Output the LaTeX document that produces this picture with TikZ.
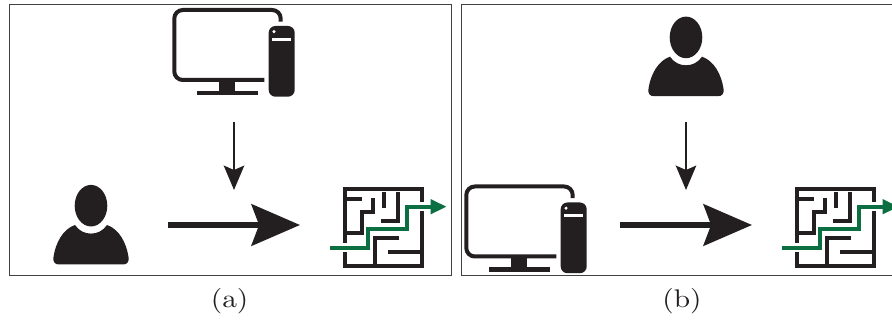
\documentclass[tikz,border=0pt]{standalone}
\usetikzlibrary{arrows.meta}
\definecolor{ink}{HTML}{231F20}
\definecolor{mazegreen}{HTML}{0B6F41}
\font\capfont=cmr10 at 25.5pt
\tikzset{
  panel/.style={draw=ink!85,line width=0.9pt},
  caption/.style={text=ink,font=\capfont,inner sep=0pt,xscale=1.15,transform shape},
  bigarrow/.style={ink,line width=5.6pt,-{Stealth[length=48.5pt,width=41.5pt,inset=7.6pt]}},
  smallarrow/.style={ink,line width=2.8pt,-{Stealth[length=24.3pt,width=20.3pt,inset=4.3pt]}},
  wall/.style={ink,line width=3.8pt,miter limit=10},
  pics/computer/.style={code={
    \draw[ink,line width=4pt,rounded corners=8.5pt] (280.7,21.7) -- (280.7,10) -- (174.3,10) -- (174.3,80) -- (264.3,80);
    \fill[ink] (219,81) rectangle (235,91);
    \fill[ink] (196.7,90.7) rectangle (257.7,95.2);
    \fill[ink,rounded corners=6.7pt] (268.7,26) rectangle (294.7,96.7);
    \fill[white] (274,31.7) circle[radius=1.7];
    \fill[white] (272,37.7) rectangle (291,41);
  }},
  pics/person/.style={code={
    \fill[ink] (91,205.7) ellipse[x radius=16.3,y radius=20.8];
    \fill[ink] (75,225) .. controls (79,231) and (85,233.6) .. (91,233.6)
      .. controls (97,233.6) and (103,231) .. (107,225)
      .. controls (119,229) and (126.5,243) .. (128.5,257)
      .. controls (129.3,262) and (127,264.5) .. (123,264.5)
      -- (59,264.5) .. controls (55,264.5) and (52.7,262) .. (53.5,257)
      .. controls (55.5,243) and (63,229) .. (75,225) -- cycle;
  }},
  pics/maze/.style={code={
    \draw[wall] (344.7,189.3) -- (421.7,189.3) -- (421.7,266) -- (344.7,266) -- cycle;
    \draw[wall] (346.7,199.3) -- (362.3,199.3);
    \draw[wall] (373.3,198.3) -- (373.3,211.7) -- (361.7,211.7) -- (361.7,232.7) -- (346.7,232.7);
    \draw[wall] (384.3,191.7) -- (384.3,208.3);
    \draw[wall] (398.3,191.7) -- (398.3,220.7) -- (381,220.7);
    \draw[wall] (399.3,238) -- (375,238) -- (375,264);
    \draw[wall] (388.3,252.3) -- (420,252.3);
    \draw[white,line width=9pt] (342,247.7) -- (368.3,247.7) -- (368.3,229.3) -- (407.3,229.3) -- (407.3,206.7) -- (426,206.7);
    \draw[mazegreen,line width=4pt,-{Triangle[length=16pt,width=14pt]}] (330,247.7) -- (368.3,247.7) -- (368.3,229.3) -- (407.3,229.3) -- (407.3,206.7) -- (446.7,206.7);
  }}
}
\begin{document}
\begin{tikzpicture}[x=1pt,y=-1pt]
\useasboundingbox (0,0) rectangle (892,320);
\clip (0,0) rectangle (892,320);
\fill[white] (0,0) rectangle (892,320);
\draw[panel] (9.5,4.5) rectangle (451,275);
\draw[panel] (461,4.5) rectangle (900,275);
% panel (a)
\pic at (0,0) {computer};
\pic at (0,0) {person};
\pic at (0,0) {maze};
\coordinate (a1) at (234,122.3);
\coordinate (a2) at (234,190);
\coordinate (a3) at (168,225);
\coordinate (a4) at (300,225);
\draw[smallarrow] (a1) -- (a2);
\draw[bigarrow] (a3) -- (a4);
% panel (b)
\pic at (292,176.5) {computer};
\pic at (595,-168.3) {person};
\pic at (452,0) {maze};
\coordinate (b1) at (686,122.3);
\coordinate (b2) at (686,190);
\coordinate (b3) at (620,225);
\coordinate (b4) at (752,225);
\draw[smallarrow] (b1) -- (b2);
\draw[bigarrow] (b3) -- (b4);
\node[caption] (capa) at (229.5,301) {(a)};
\node[caption] (capb) at (682,301) {(b)};
\end{tikzpicture}
\end{document}
